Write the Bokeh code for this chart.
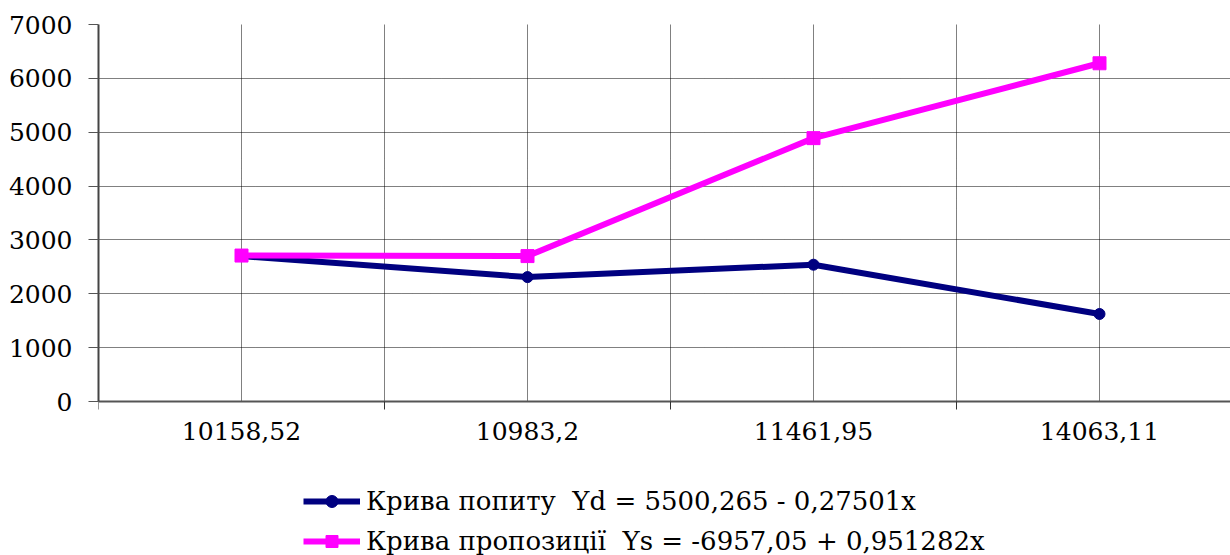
from bokeh.plotting import figure
from bokeh.models import (Range1d, FixedTicker, Legend, LegendItem)
from bokeh.embed import file_html
from bokeh.resources import INLINE

# ---- data ----
categories = ["10158,52", "10983,2", "11461,95", "14063,11"]
demand = [2700, 2310, 2540, 1625]
supply = [2710, 2700, 4890, 6280]
y_ticks = [0, 1000, 2000, 3000, 4000, 5000, 6000, 7000]
demand_label = "Крива попиту  Yd = 5500,265 - 0,27501x"
supply_label = "Крива пропозиції  Ys = -6957,05 + 0,951282x"

FONT = "DejaVu Serif"
FS = "25px"

n = len(categories)
centers = [i + 0.5 for i in range(n)]
bounds = [float(i) for i in range(n + 1)]

W, H = 1230, 555
LEFT, TOP = 98, 24
ZERO_PX = 401          # vertical pixel of value 0
y_max = y_ticks[-1]
px_per_unit = (ZERO_PX - TOP) / y_max
y_min = -(H - ZERO_PX) / px_per_unit
frame_w = W - LEFT
cat_px = 286.0

p = figure(width=W, height=H, output_backend="svg", toolbar_location=None,
           x_axis_location="above",
           x_range=Range1d(0, frame_w / cat_px), y_range=Range1d(y_min, y_max),
           min_border_left=LEFT, min_border_right=0, min_border_top=TOP,
           min_border_bottom=0)
p.outline_line_color = None
p.background_fill_color = "white"
p.border_fill_color = "white"

# x axis drawn at value 0
xa = p.xaxis[0]
xa.fixed_location = 0
xa.ticker = FixedTicker(ticks=centers, minor_ticks=bounds)
xa.major_label_overrides = {c: lab for c, lab in zip(centers, categories)}
xa.major_tick_line_color = None
xa.major_tick_out = 0
xa.major_tick_in = 0
xa.minor_tick_line_color = "#333333"
xa.minor_tick_out = 0
xa.minor_tick_in = 8
xa.minor_tick_line_width = 1
xa.axis_line_color = "#555555"
xa.axis_line_width = 2
xa.major_label_text_font = FONT
xa.major_label_text_font_size = FS
xa.major_label_text_color = "black"
xa.major_label_standoff = -38

# y axis
p.yaxis.ticker = FixedTicker(ticks=y_ticks, minor_ticks=[])
p.yaxis.bounds = (0, y_max)
p.yaxis.major_tick_out = 10
p.yaxis.major_tick_in = 0
p.yaxis.major_tick_line_color = "#555555"
p.yaxis.axis_line_color = "#444444"
p.yaxis.axis_line_width = 2
p.yaxis.minor_tick_line_color = None
p.yaxis.major_label_text_font = FONT
p.yaxis.major_label_text_font_size = FS
p.yaxis.major_label_text_color = "black"
p.yaxis.major_label_standoff = 16

# grids
for g in (p.xgrid, p.ygrid):
    g.grid_line_color = "#000000"
    g.grid_line_dash = "1 1"
    g.grid_line_width = 1
    g.grid_line_alpha = 1.0
p.xgrid.minor_grid_line_color = "#000000"
p.xgrid.minor_grid_line_dash = "1 1"
p.xgrid.minor_grid_line_alpha = 1.0
p.xgrid.cross_bounds = (0, y_max)

# series
dl = p.line(centers, demand, line_color="#000080", line_width=6)
dm = p.scatter(centers, demand, marker="circle", size=11,
               fill_color="#000080", line_color="#000080")
sl = p.line(centers, supply, line_color="#FF00FF", line_width=6)
sm = p.scatter(centers, supply, marker="square", size=13,
               fill_color="#FF00FF", line_color="#FF00FF")

legend = Legend(items=[LegendItem(label=demand_label, renderers=[dl, dm]),
                       LegendItem(label=supply_label, renderers=[sl, sm])],
                location=(205, -1), orientation="vertical",
                glyph_width=57, glyph_height=30, label_height=30,
                label_standoff=6, spacing=10, padding=0, margin=0,
                label_text_font=FONT, label_text_font_size="26px",
                label_text_color="black",
                border_line_color=None, background_fill_alpha=0)
p.add_layout(legend, "center")

open("out.html", "w").write(file_html(p, INLINE))
